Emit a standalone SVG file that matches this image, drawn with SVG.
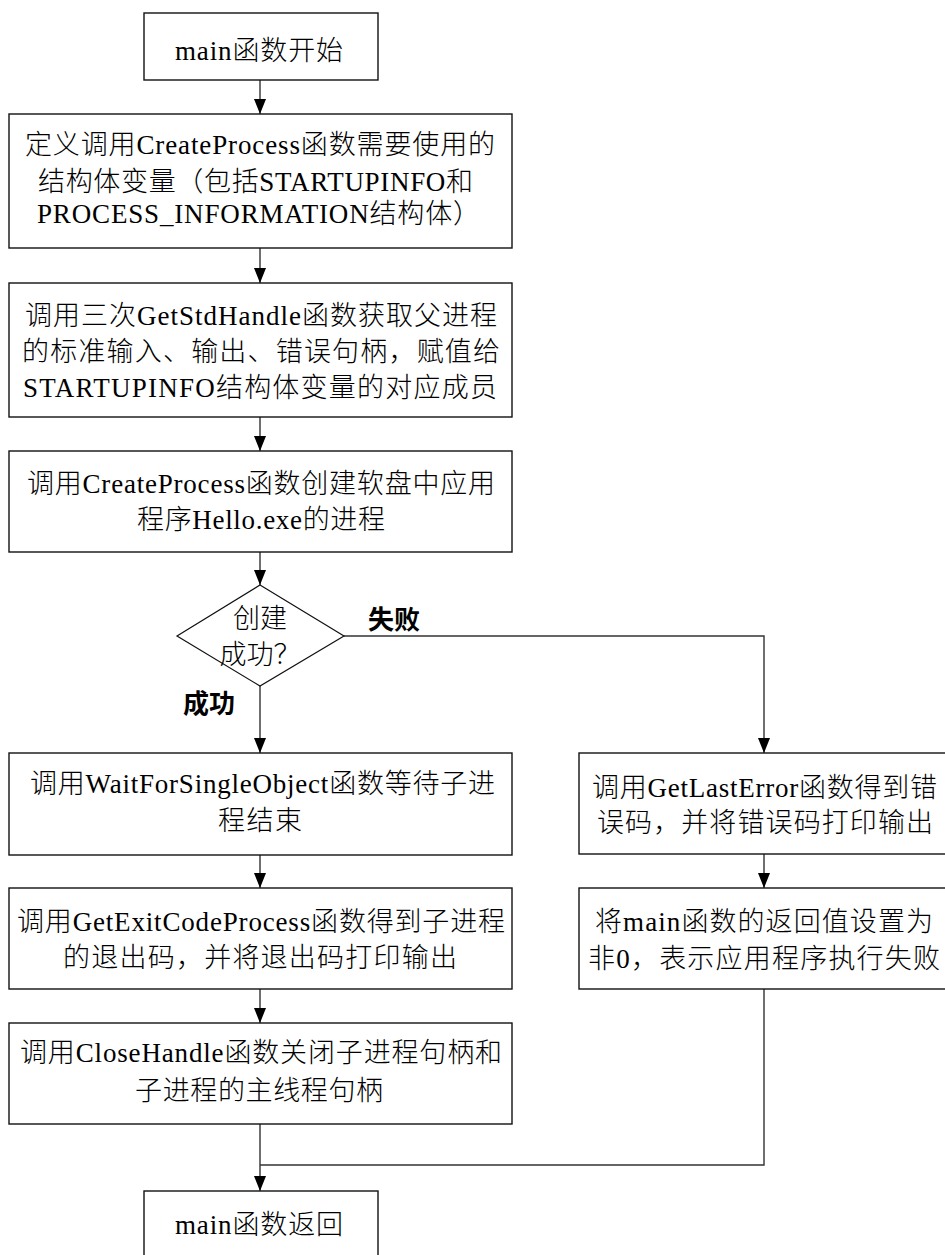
<svg xmlns="http://www.w3.org/2000/svg" width="945" height="1255" viewBox="0 0 945 1255">
<style>
.box{fill:#fff;stroke:#111;stroke-width:1.4}
.t{font-family:"Liberation Serif","Noto Sans CJK SC",serif;font-size:27px;font-weight:300;fill:#000;text-anchor:middle}
.lbl{font-family:"Noto Sans CJK SC","Liberation Sans",sans-serif;font-size:26px;font-weight:bold;fill:#000}
.c{fill:none;stroke:#333;stroke-width:1.4}
</style>
<defs>
<marker id="ah" markerUnits="userSpaceOnUse" markerWidth="15" markerHeight="12" refX="15" refY="6" orient="auto" viewBox="0 0 15 12">
<path d="M0,0 L15,6 L0,12 z" fill="#000"/>
</marker>
</defs>
<rect width="945" height="1255" fill="#fff"/>
<g id="connectors">
<line class="c" x1="260" y1="80" x2="260" y2="114" marker-end="url(#ah)"/>
<line class="c" x1="260" y1="248" x2="260" y2="283" marker-end="url(#ah)"/>
<line class="c" x1="260" y1="417" x2="260" y2="451" marker-end="url(#ah)"/>
<line class="c" x1="260" y1="552" x2="260" y2="585" marker-end="url(#ah)"/>
<line class="c" x1="260" y1="686" x2="260" y2="753" marker-end="url(#ah)"/>
<polyline class="c" points="344,636 764,636 764,753" marker-end="url(#ah)"/>
<line class="c" x1="260" y1="855" x2="260" y2="888" marker-end="url(#ah)"/>
<line class="c" x1="260" y1="989" x2="260" y2="1023" marker-end="url(#ah)"/>
<line class="c" x1="764" y1="854" x2="764" y2="888" marker-end="url(#ah)"/>
<line class="c" x1="260" y1="1124" x2="260" y2="1191" marker-end="url(#ah)"/>
<polyline class="c" points="764,989 764,1165 260,1165"/>
<text class="lbl" x="368" y="629">失败</text>
<text class="lbl" x="183" y="713">成功</text>
</g>
<g id="n1">
<rect class="box" x="144" y="13" width="234" height="67"/>
<text class="t" x="259" y="60" textLength="168" lengthAdjust="spacing">main函数开始</text>
</g>
<g id="n2">
<rect class="box" x="9" y="114" width="503" height="134"/>
<text class="t" x="260" y="154" textLength="470" lengthAdjust="spacing">定义调用CreateProcess函数需要使用的</text>
<text class="t" x="255.5" y="191" textLength="435" lengthAdjust="spacing">结构体变量（包括STARTUPINFO和</text>
<text class="t" x="258.5" y="223" textLength="443" lengthAdjust="spacing">PROCESS_INFORMATION结构体）</text>
</g>
<g id="n3">
<rect class="box" x="9" y="283" width="503" height="134"/>
<text class="t" x="261" y="325" textLength="472" lengthAdjust="spacing">调用三次GetStdHandle函数获取父进程</text>
<text class="t" x="261" y="360.5" textLength="478" lengthAdjust="spacing">的标准输入、输出、错误句柄，赋值给</text>
<text class="t" x="260" y="397" textLength="474" lengthAdjust="spacing">STARTUPINFO结构体变量的对应成员</text>
</g>
<g id="n4">
<rect class="box" x="9" y="451" width="503" height="101"/>
<text class="t" x="261" y="492.5" textLength="468" lengthAdjust="spacing">调用CreateProcess函数创建软盘中应用</text>
<text class="t" x="261" y="529" textLength="248" lengthAdjust="spacing">程序Hello.exe的进程</text>
</g>
<g id="d1">
<polygon points="260,585 344,636 260,686 177,636" fill="#fff" stroke="#111" stroke-width="1.2"/>
<text class="t" x="260" y="627.5" fill="#222">创建</text>
<text class="t" x="260" y="664" fill="#222">成功？</text>
</g>
<g id="n5">
<rect class="box" x="9" y="753" width="503" height="102"/>
<text class="t" x="262.5" y="793" textLength="465" lengthAdjust="spacing">调用WaitForSingleObject函数等待子进</text>
<text class="t" x="260" y="830" textLength="84" lengthAdjust="spacing">程结束</text>
</g>
<g id="n6">
<rect class="box" x="9" y="888" width="503" height="101"/>
<text class="t" x="261" y="931" textLength="488" lengthAdjust="spacing">调用GetExitCodeProcess函数得到子进程</text>
<text class="t" x="260" y="967" textLength="394" lengthAdjust="spacing">的退出码，并将退出码打印输出</text>
</g>
<g id="n7">
<rect class="box" x="9" y="1023" width="503" height="101"/>
<text class="t" x="261" y="1062" textLength="482" lengthAdjust="spacing">调用CloseHandle函数关闭子进程句柄和</text>
<text class="t" x="259" y="1100" textLength="248" lengthAdjust="spacing">子进程的主线程句柄</text>
</g>
<g id="n8">
<rect class="box" x="144" y="1191" width="234" height="72"/>
<text class="t" x="259" y="1234" textLength="168" lengthAdjust="spacing">main函数返回</text>
</g>
<g id="r1">
<rect class="box" x="579" y="753" width="372" height="101"/>
<text class="t" x="764.5" y="797" textLength="345" lengthAdjust="spacing">调用GetLastError函数得到错</text>
<text class="t" x="765" y="832" textLength="336" lengthAdjust="spacing">误码，并将错误码打印输出</text>
</g>
<g id="r2">
<rect class="box" x="579" y="888" width="372" height="101"/>
<text class="t" x="764" y="931" textLength="338" lengthAdjust="spacing">将main函数的返回值设置为</text>
<text class="t" x="764" y="968" textLength="352" lengthAdjust="spacing">非0，表示应用程序执行失败</text>
</g>
</svg>
